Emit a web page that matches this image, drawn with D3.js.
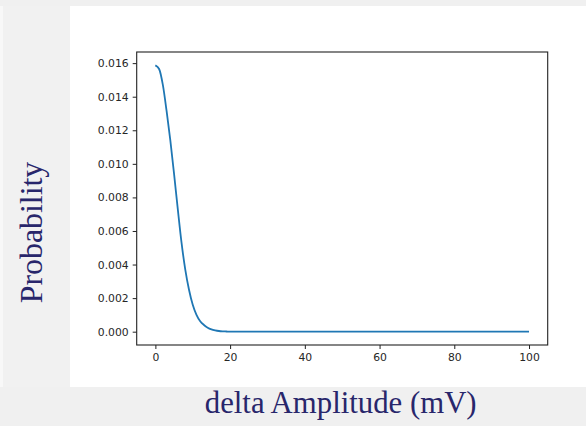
<!DOCTYPE html>
<html>
<head>
<meta charset="utf-8">
<script src="https://cdn.jsdelivr.net/npm/d3@7"></script>
<style>
  html, body { margin: 0; padding: 0; background: #f0f0f0; }
  svg { display: block; }
</style>
</head>
<body>
<script>
// ---- data ----
const xValues = [0, 1, 2, 3, 4, 5, 6, 7, 8, 9, 10, 11, 12, 13, 14, 15, 16, 17, 18, 19, 20,
                 25, 30, 35, 40, 45, 50, 55, 60, 65, 70, 75, 80, 85, 90, 95, 100];
const probValues = [0.01587, 0.01565, 0.01470, 0.01315, 0.01140, 0.00940, 0.00730, 0.00530,
                    0.00370, 0.00250, 0.00160, 0.00100, 0.00062, 0.00040, 0.00024, 0.00014,
                    0.00008, 0.00004, 0.00002, 0.00001, 0,
                    0, 0, 0, 0, 0, 0, 0, 0, 0, 0, 0, 0, 0, 0, 0, 0];
const xTicks = [0, 20, 40, 60, 80, 100];
const yTicks = [0.000, 0.002, 0.004, 0.006, 0.008, 0.010, 0.012, 0.014, 0.016];
const xLabel = "delta Amplitude (mV)";
const yLabel = "Probability";

(function () {
const W = 586, H = 426;
const svg = d3.select("body").append("svg").attr("width", W).attr("height", H);

// background panels
svg.append("rect").attr("x", 0).attr("y", 0).attr("width", W).attr("height", H).attr("fill", "#f0f0f0");
svg.append("rect").attr("x", 0).attr("y", 6).attr("width", 3).attr("height", 381).attr("fill", "#f8f8f8");
svg.append("rect").attr("x", 3).attr("y", 6).attr("width", 67).attr("height", 381).attr("fill", "#f1f1f1");
svg.append("rect").attr("x", 70).attr("y", 6).attr("width", W - 70).attr("height", 381).attr("fill", "#ffffff");

// plot area
const pLeft = 136.7, pRight = 547.7, pTop = 52, pBottom = 345;
const xMin = d3.min(xValues), xMax = d3.max(xValues);
const yMin = d3.min(probValues), yMax = d3.max(probValues);
const xPad = (xMax - xMin) * 0.05, yPad = (yMax - yMin) * 0.05;
const x = d3.scaleLinear().domain([xMin - xPad, xMax + xPad]).range([pLeft, pRight]);
const y = d3.scaleLinear().domain([yMin - yPad, yMax + yPad]).range([pBottom, pTop]);

const tickFont = "'DejaVu Sans', sans-serif";

// axes
const xAxis = svg.append("g").attr("transform", `translate(0,${pBottom})`)
  .call(d3.axisBottom(x).tickValues(xTicks).tickFormat(d3.format("d")).tickSize(4).tickPadding(4));
const yAxis = svg.append("g").attr("transform", `translate(${pLeft},0)`)
  .call(d3.axisLeft(y).tickValues(yTicks).tickFormat(d3.format(".3f")).tickSize(4).tickPadding(4));
[xAxis, yAxis].forEach(a => {
  a.select(".domain").remove();
  a.selectAll(".tick line").attr("stroke", "#222").attr("stroke-width", 1);
  a.selectAll(".tick text").attr("fill", "#262626").style("font-family", tickFont).style("font-size", "10.8px");
});

// frame
svg.append("rect").attr("x", pLeft).attr("y", pTop).attr("width", pRight - pLeft).attr("height", pBottom - pTop)
  .attr("fill", "none").attr("stroke", "#222").attr("stroke-width", 1.1);

// line
const line = d3.line().x((d, i) => x(xValues[i])).y(d => y(d)).curve(d3.curveMonotoneX);
svg.append("path").datum(probValues).attr("d", line)
  .attr("fill", "none").attr("stroke", "#1f77b4").attr("stroke-width", 1.8);

// axis titles
const titleFont = "'Liberation Serif', 'DejaVu Serif', serif";
const xt = svg.append("text").attr("x", 340.7).attr("y", 413).attr("text-anchor", "middle")
  .attr("fill", "#28266b").style("font-family", titleFont).style("font-size", "28px").text(xLabel);
const xw = xt.node().getComputedTextLength();
xt.style("font-size", (28 * 272 / xw) + "px");

const yt = svg.append("text").attr("transform", "translate(42,232.5) rotate(-90)").attr("text-anchor", "middle")
  .attr("fill", "#28266b").style("font-family", titleFont).style("font-size", "27px").text(yLabel);
const yw = yt.node().getComputedTextLength();
yt.style("font-size", (27 * 141.6 / yw) + "px");
})();
</script>
</body>
</html>
